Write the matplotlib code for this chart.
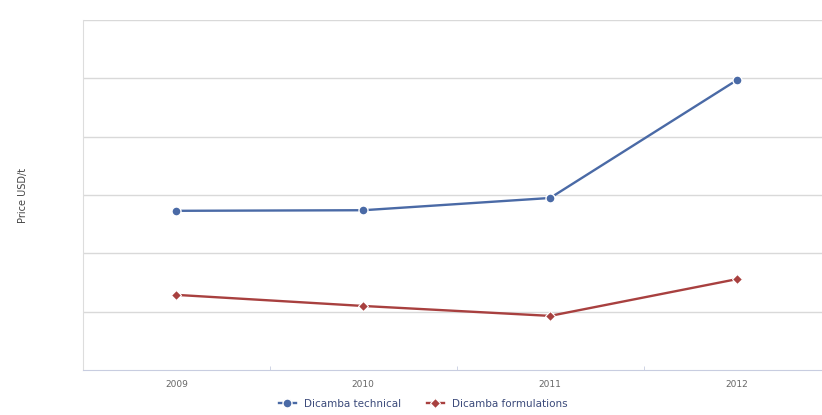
import matplotlib.pyplot as plt
import numpy as np

years = ['2009', '2010', '2011', '2012']
technical = [2.73, 2.74, 2.95, 4.97]
formulations = [1.29, 1.10, 0.93, 1.56]

fig = plt.figure(figsize=(8.22, 4.15), dpi=100)
ax = fig.add_axes([0.101, 0.108, 0.899, 0.844])

x = np.arange(len(years))
ax.plot(x, technical, color='#4a6aa6', lw=1.7, marker='o', ms=6.5,
        mec='white', mew=1, label='Dicamba technical', zorder=3)
ax.plot(x, formulations, color='#a8403f', lw=1.7, marker='D', ms=5,
        mec='white', mew=0.8, label='Dicamba formulations', zorder=3)

ax.set_xlim(-0.5, 3.455)
ax.set_ylim(0, 6)
ax.set_yticks(np.arange(1, 7))
ax.set_yticklabels([])
ax.tick_params(axis='y', length=0)
ax.yaxis.grid(True, color='#d9d9d9', lw=1)
ax.set_axisbelow(True)

ax.set_xticks(x)
ax.set_xticklabels(years, fontsize=6.5, color='#666666')
ax.tick_params(axis='x', length=0, pad=7)
ax.set_xticks(x[:-1] + 0.5, minor=True)
ax.tick_params(axis='x', which='minor', length=3, direction='in', color='#c8cde0')

for s in ['top', 'right']:
    ax.spines[s].set_visible(False)
ax.spines['left'].set_color('#dddddd')
ax.spines['bottom'].set_color('#c8cde0')

ax.set_ylabel('Price USD/t', fontsize=7, color='#444444', labelpad=36)

fig.legend(loc='lower center', bbox_to_anchor=(0.515, -0.008), ncol=2, frameon=False,
           fontsize=7.5, labelcolor='#3b4a7a', handlelength=1.6, columnspacing=2.5)

fig.savefig('out.png', dpi=100)
